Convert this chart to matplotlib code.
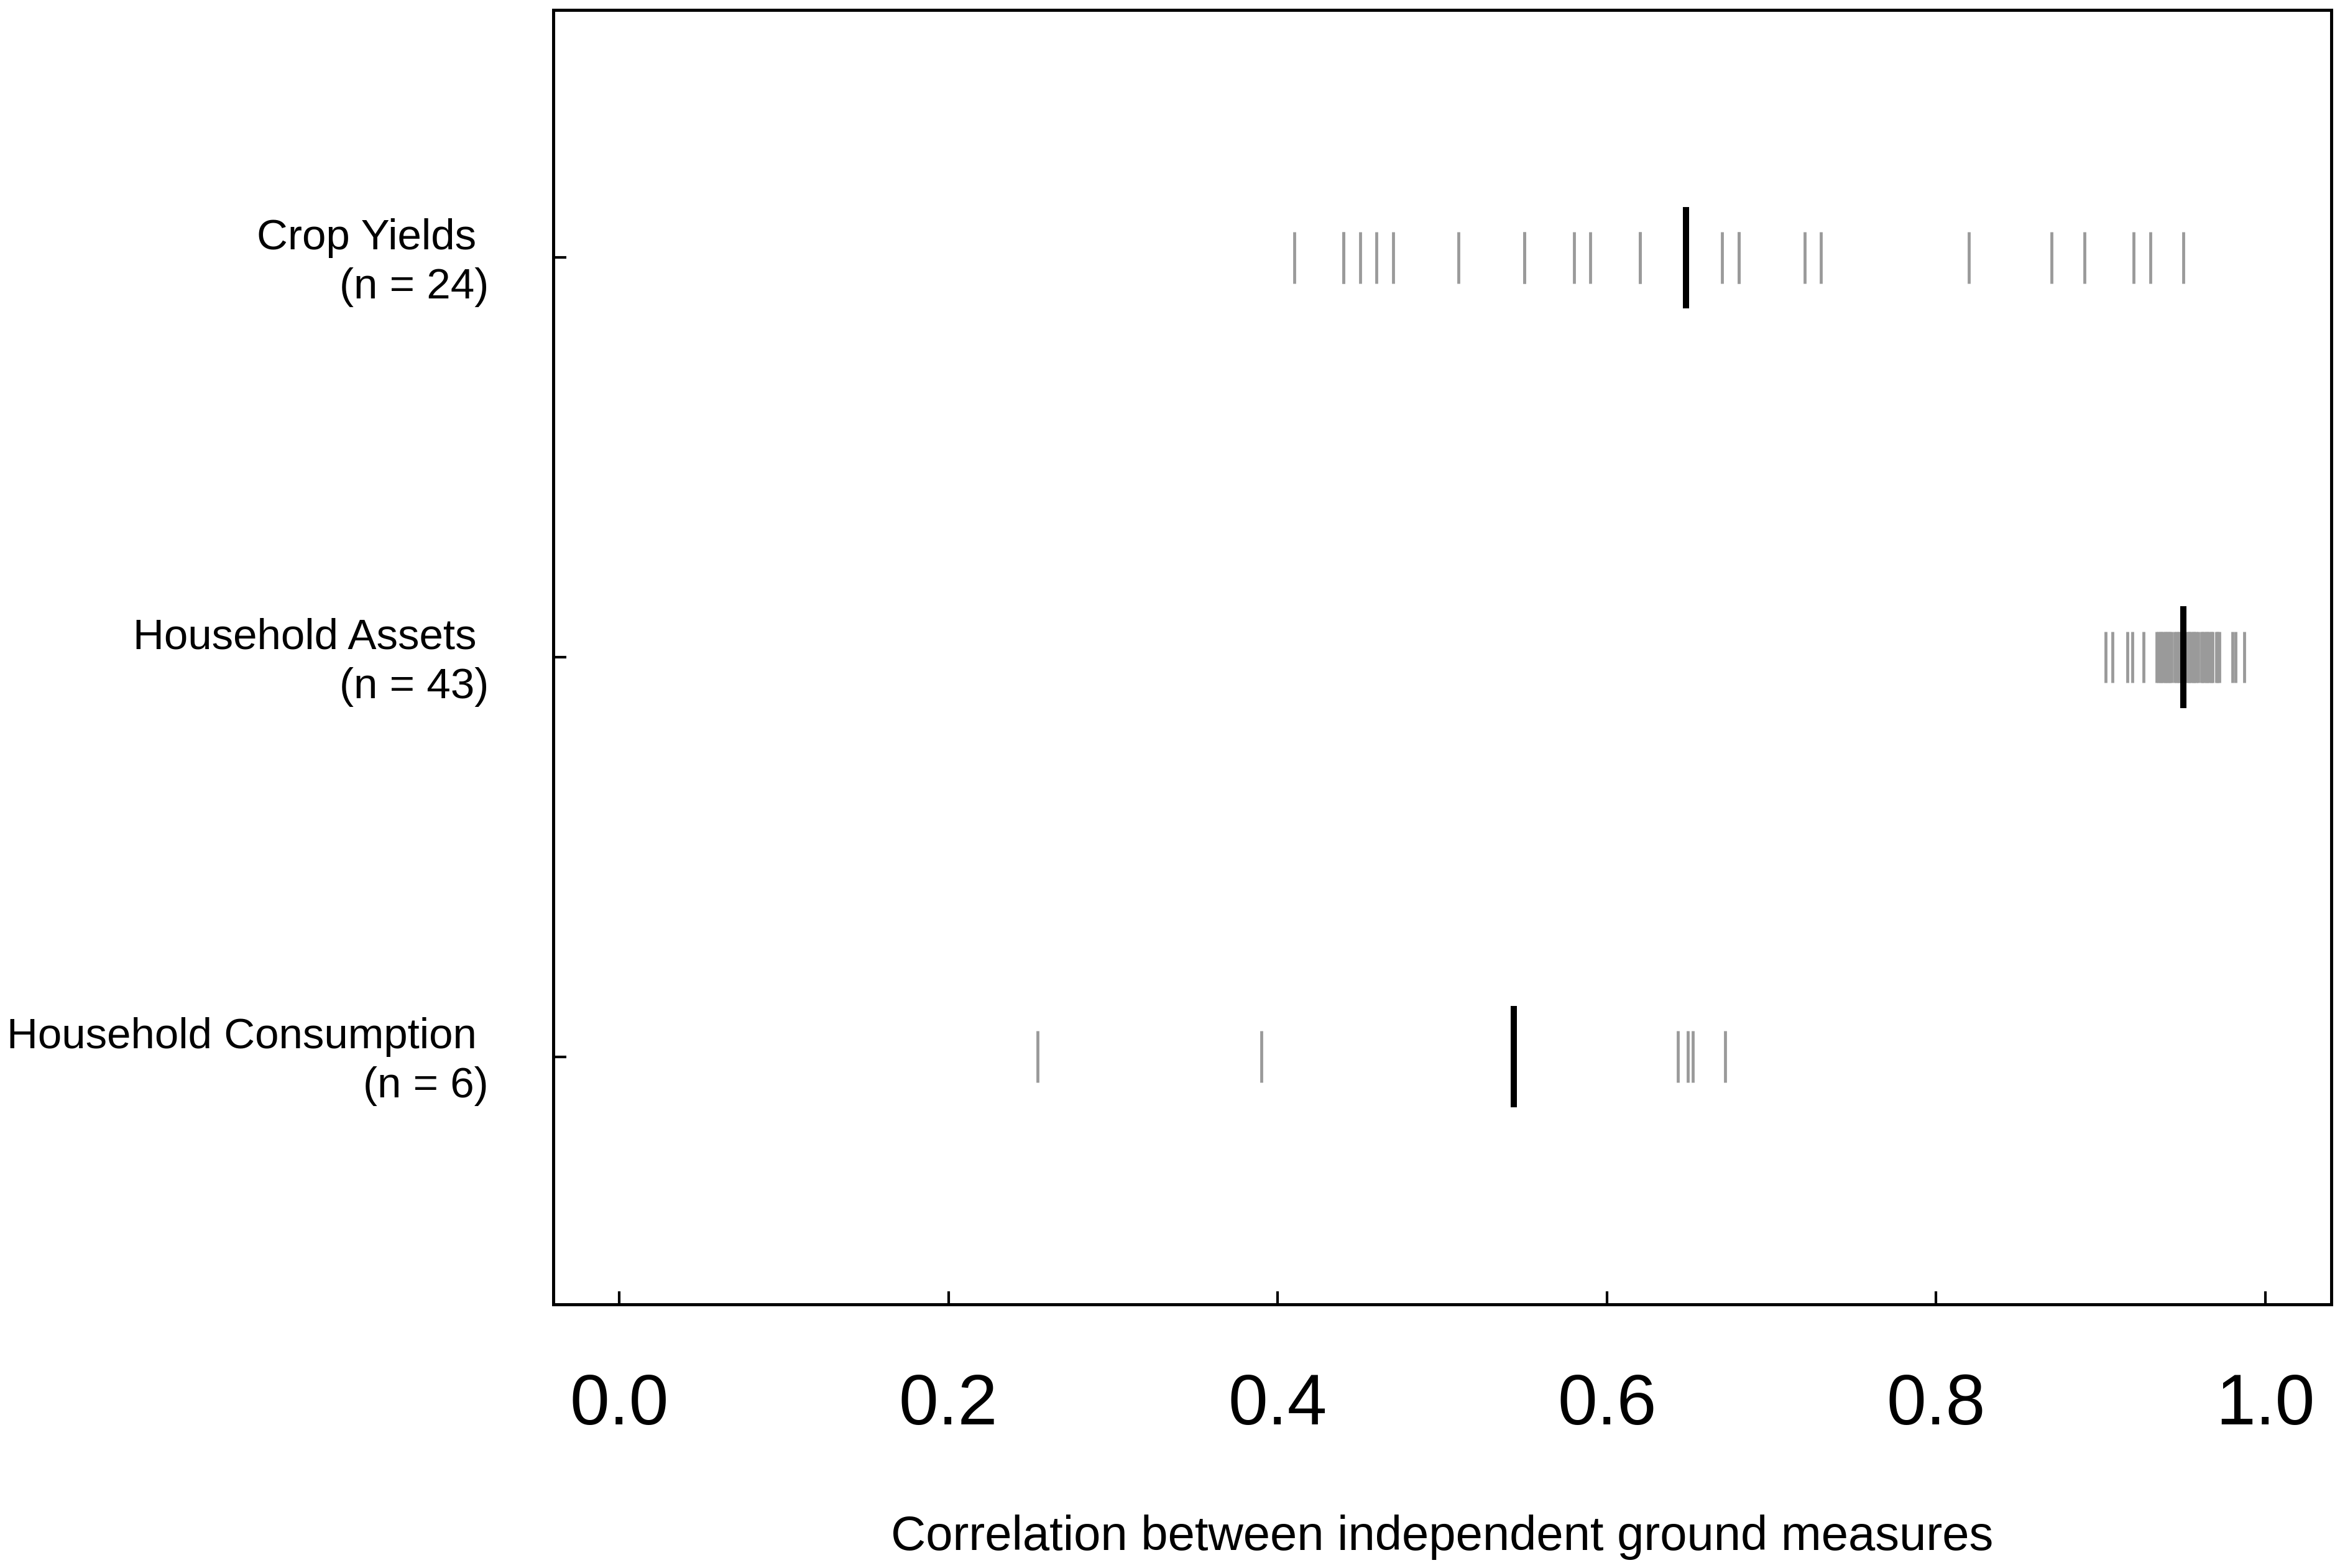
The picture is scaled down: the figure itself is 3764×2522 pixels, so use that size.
import numpy as np
import matplotlib
matplotlib.use("Agg")
import matplotlib.pyplot as plt
import matplotlib.transforms as mtransforms

plt.rcParams['font.family'] = ['Liberation Sans', 'DejaVu Sans']

# ---- data ----
categories = ["Crop Yields", "Household Assets", "Household Consumption"]
n_labels = ["(n = 24)", "(n = 43)", "(n = 6)"]
y_positions = [3, 2, 1]

crop_yields = [0.41, 0.44, 0.44, 0.45, 0.46, 0.47, 0.51, 0.55, 0.55, 0.58,
               0.59, 0.62, 0.62, 0.67, 0.68, 0.68, 0.72, 0.73, 0.82, 0.87,
               0.89, 0.92, 0.93, 0.95]

household_assets = [0.903, 0.907, 0.916, 0.919, 0.926,
                    0.934, 0.935, 0.936, 0.937, 0.938, 0.939, 0.940, 0.941,
                    0.942, 0.943, 0.945, 0.946, 0.947, 0.948, 0.949, 0.950,
                    0.952, 0.953, 0.954, 0.955, 0.956, 0.957, 0.958, 0.959,
                    0.961, 0.962, 0.963, 0.964, 0.965, 0.966, 0.967, 0.968,
                    0.970, 0.971, 0.972,
                    0.980, 0.982, 0.987]

household_consumption = [0.254, 0.390, 0.643, 0.649, 0.652, 0.672]

series = [crop_yields, household_assets, household_consumption]

x_ticks = [0.0, 0.2, 0.4, 0.6, 0.8, 1.0]
x_tick_labels = ["0.0", "0.2", "0.4", "0.6", "0.8", "1.0"]
x_label = "Correlation between independent ground measures"

# ---- figure ----
W, H, DPI = 3764, 2522, 300
fig = plt.figure(figsize=(W / DPI, H / DPI), dpi=DPI)
ax = fig.add_axes([890 / W, 1 - 2098 / H, (3750 - 890) / W, (2098 - 16) / H])

grey_half = 0.064
mean_half = 0.127
for yv, vals in zip(y_positions, series):
    ax.vlines(vals, yv - grey_half, yv + grey_half, colors="#9a9a9a",
              linewidth=1.15, capstyle="butt")
    ax.vlines(np.mean(vals), yv - mean_half, yv + mean_half, colors="black",
              linewidth=2.4, capstyle="butt", zorder=3)

ax.set_xlim(-0.04, 1.04)
ax.set_ylim(0.38, 3.62)

ax.set_xticks(x_ticks)
ax.set_xticklabels(x_tick_labels, fontsize=27.5)
ax.set_yticks(y_positions)
ax.set_yticklabels([f"{c} \n{n}" for c, n in zip(categories, n_labels)],
                   fontsize=16.6, multialignment="right", linespacing=1.3)

ax.tick_params(axis="x", direction="in", length=5, width=1.0, pad=26.5)
ax.tick_params(axis="y", direction="in", length=5, width=1.0, pad=25)

# small upward nudge of the category labels
shift = mtransforms.ScaledTranslation(0, 1.5 / 72, fig.dpi_scale_trans)
for lbl in ax.get_yticklabels():
    lbl.set_transform(lbl.get_transform() + shift)

for sp in ax.spines.values():
    sp.set_linewidth(1.2)

ax.set_xlabel(x_label, fontsize=18.7, labelpad=29)

fig.savefig("out.png", dpi=DPI, facecolor="white")
